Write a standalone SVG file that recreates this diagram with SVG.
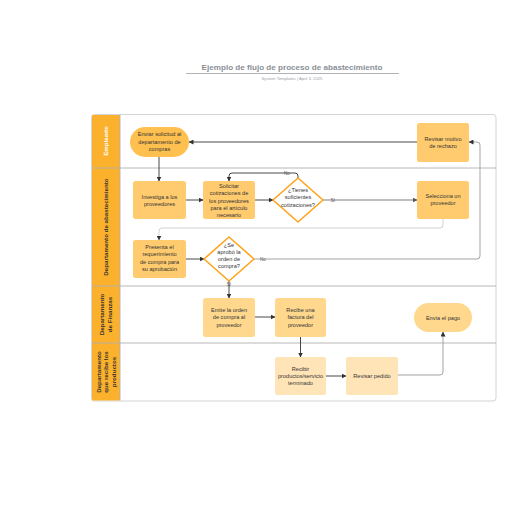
<svg xmlns="http://www.w3.org/2000/svg" width="516" height="516" viewBox="0 0 516 516">
<style>
text{font-family:"Liberation Sans",Arial,sans-serif;fill:#333;}
.t{font-size:5.6px;text-anchor:middle;}
.lane{font-size:6.2px;font-weight:bold;text-anchor:middle;}
.c1{fill:#FFC04F;}
.c2{fill:#FFCB6E;}
.c3{fill:#FFD88E;}
.c4{fill:#FFE4B8;}
.dia{fill:#fff;stroke:#FFA31A;stroke-width:1.6;stroke-linejoin:round;}
.ln{fill:none;stroke:#333;stroke-width:0.9;}
.lg{fill:none;stroke:#999;stroke-width:0.9;}
.lgt{fill:none;stroke:#ccc;stroke-width:0.9;}
.lth{fill:none;stroke:#a8a8a8;stroke-width:1.6;}
.lbl{font-size:4.5px;text-anchor:middle;fill:#555;}
</style>
<defs>
<marker id="a" viewBox="0 0 10 10" refX="9" refY="5" markerWidth="5" markerHeight="5" orient="auto" markerUnits="userSpaceOnUse"><path d="M0,0 L10,5 L0,10 z" fill="#333"/></marker>
<marker id="ag" viewBox="0 0 10 10" refX="9" refY="5" markerWidth="5" markerHeight="5" orient="auto" markerUnits="userSpaceOnUse"><path d="M0,0 L10,5 L0,10 z" fill="#555"/></marker>
</defs>
<rect width="516" height="516" fill="#fff"/>
<g id="title">
<text x="292" y="70" style="font-size:8.1px;font-weight:bold;fill:#8a8f96;text-anchor:middle;">Ejemplo de flujo de proceso de abastecimiento</text>
<line x1="186" y1="73.5" x2="399" y2="73.5" stroke="#9aa0a6" stroke-width="0.8"/>
<text x="292" y="79.5" style="font-size:4.2px;fill:#9aa0a6;text-anchor:middle;">System Templates  |  April 3, 2025</text>
</g>
<g id="pool">
<rect x="91.5" y="114.5" width="404.5" height="286.5" rx="3" fill="#fff" stroke="#d4d4d4" stroke-width="1"/>
<rect x="92" y="115" width="28" height="285.5" fill="#FBB12C"/>
<line x1="120" y1="115" x2="120" y2="400.5" stroke="#b0b0b0" stroke-width="0.9"/>
<line x1="92" y1="168" x2="496" y2="168" stroke="#b0b0b0" stroke-width="0.9"/>
<line x1="92" y1="286" x2="496" y2="286" stroke="#b0b0b0" stroke-width="0.9"/>
<line x1="92" y1="343" x2="496" y2="343" stroke="#b0b0b0" stroke-width="0.9"/>
<text class="lane" transform="translate(108,141) rotate(-90)" style="fill:#fff;">Empleado</text>
<text class="lane" transform="translate(108,227) rotate(-90)">Departamento de abastecimiento</text>
<text class="lane" transform="translate(104,314.5) rotate(-90)">Departamento</text>
<text class="lane" transform="translate(111.5,314.5) rotate(-90)">de Finanzas</text>
<text class="lane" transform="translate(100.5,372) rotate(-90)">Departamento</text>
<text class="lane" transform="translate(108,372) rotate(-90)">que recibe los</text>
<text class="lane" transform="translate(115.5,372) rotate(-90)">productos</text>
</g>
<g id="connectors">
<path class="ln" d="M417,142 H189" marker-end="url(#a)"/>
<path class="ln" d="M159,157 V181" marker-end="url(#a)"/>
<path class="ln" d="M186,200 H203" marker-end="url(#a)"/>
<path class="ln" d="M255,200 H273" marker-end="url(#a)"/>
<path class="ln" d="M298,178 V176 Q298,173 295,173 H232 Q229,173 229,176 V181" marker-end="url(#a)"/>
<text class="lbl" x="287" y="175">No</text>
<path class="lth" d="M323,200 H417" marker-end="url(#ag)"/>
<text class="lbl" x="333" y="201.5">Sí</text>
<path class="lgt" d="M443,219 V225 Q443,228 440,228 H162 Q159,228 159,231 V240" marker-end="url(#a)"/>
<path class="ln" d="M186,259 H204" marker-end="url(#a)"/>
<path class="lg" d="M254,259 H477 Q480,259 480,256 V145 Q480,142 477,142 H469" marker-end="url(#a)"/>
<text class="lbl" x="263" y="260.5">No</text>
<path class="ln" d="M229,281 V298" marker-end="url(#a)"/>
<text class="lbl" x="229" y="286">Sí</text>
<path class="ln" d="M255,317 H275" marker-end="url(#a)"/>
<path class="ln" d="M300.5,337 V357" marker-end="url(#a)"/>
<path class="ln" d="M326,376 H346" marker-end="url(#a)"/>
<path class="lg" d="M398,375 H440 Q443,375 443,372 V332" marker-end="url(#a)"/>
</g>
<g id="n1"><rect class="c1" x="130" y="127" width="59" height="30" rx="15"/>
<text class="t" x="159.5" y="136">Enviar solicitud al</text><text class="t" x="159.5" y="143.5">departamento de</text><text class="t" x="159.5" y="151">compras</text></g>
<g id="n2"><rect class="c2" x="417" y="123" width="52" height="39" rx="2.5"/>
<text class="t" x="443" y="141">Revisar motivo</text><text class="t" x="443" y="148">de rechazo</text></g>
<g id="n3"><rect class="c2" x="133" y="181" width="53" height="38" rx="2.5"/>
<text class="t" x="159.5" y="199">Investiga a los</text><text class="t" x="159.5" y="206">proveedores</text></g>
<g id="n4"><rect class="c2" x="203" y="181" width="52" height="38" rx="2.5"/>
<text class="t" x="229" y="188">Solicitar</text><text class="t" x="229" y="195.3">cotizaciones de</text><text class="t" x="229" y="202.6">los proveedores</text><text class="t" x="229" y="209.9">para el artículo</text><text class="t" x="229" y="217.2">necesario</text></g>
<g id="n5"><path class="dia" d="M298,178 L323,200 L298,222 L273,200 Z"/>
<text class="t" x="298" y="192">¿Tienes</text><text class="t" x="298" y="199.3">suficientes</text><text class="t" x="298" y="206.6">cotizaciones?</text></g>
<g id="n6"><rect class="c2" x="417" y="181" width="52" height="38" rx="2.5"/>
<text class="t" x="443" y="198">Selecciona un</text><text class="t" x="443" y="205">proveedor</text></g>
<g id="n7"><rect class="c2" x="133" y="240" width="53" height="38" rx="2.5"/>
<text class="t" x="159.5" y="249">Presenta el</text><text class="t" x="159.5" y="256.3">requerimiento</text><text class="t" x="159.5" y="263.6">de compra para</text><text class="t" x="159.5" y="270.9">su aprobación</text></g>
<g id="n8"><path class="dia" d="M229,237 L254,259 L229,281 L204,259 Z"/>
<text class="t" x="229" y="246.5">¿Se</text><text class="t" x="229" y="253.8">aprobó la</text><text class="t" x="229" y="261.1">orden de</text><text class="t" x="229" y="268.4">compra?</text></g>
<g id="n9"><rect class="c3" x="203" y="298" width="52" height="39" rx="2.5"/>
<text class="t" x="229" y="312">Emite la orden</text><text class="t" x="229" y="319.3">de compra al</text><text class="t" x="229" y="326.6">proveedor</text></g>
<g id="n10"><rect class="c3" x="275" y="298" width="51" height="39" rx="2.5"/>
<text class="t" x="300.5" y="312">Recibe una</text><text class="t" x="300.5" y="319.3">factura del</text><text class="t" x="300.5" y="326.6">proveedor</text></g>
<g id="n11"><rect class="c3" x="414" y="303" width="58" height="29" rx="14.5"/>
<text class="t" x="443" y="319.5">Envía el pago</text></g>
<g id="n12"><rect class="c4" x="275" y="357" width="51" height="38" rx="2.5"/>
<text class="t" x="300.5" y="370.5">Recibir</text><text class="t" x="300.5" y="377.8">productos/servicio</text><text class="t" x="300.5" y="385.1">terminado</text></g>
<g id="n13"><rect class="c4" x="346" y="357" width="52" height="38" rx="2.5"/>
<text class="t" x="372" y="378">Revisar pedido</text></g>
</svg>
